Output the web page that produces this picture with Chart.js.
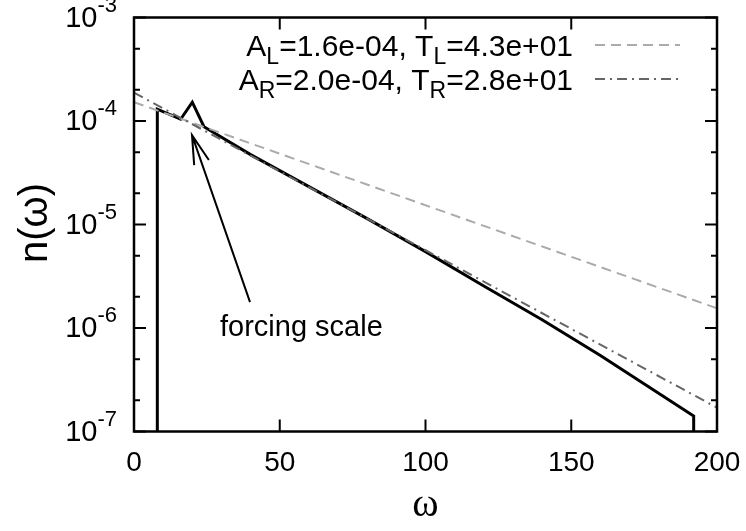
<!DOCTYPE html>
<html>
<head>
<meta charset="utf-8">
<script src="https://cdn.jsdelivr.net/npm/chart.js@4"></script>
<style>
    body { margin: 0; background: #fff; }
    #spectrum { display: block; }
</style>
</head>
<body>
<canvas id="spectrum" width="746" height="531"></canvas>
<script>
// measured spectrum n(omega)
const omega = [8, 8, 16, 20, 24, 40, 60, 80, 100, 120, 140, 160, 176, 192, 192];
const density = [1e-7, 1.30e-4, 1.04e-4, 1.52e-4, 0.88e-4, 4.73e-5, 2.32e-5, 1.14e-5, 5.47e-6, 2.55e-6, 1.20e-6, 5.42e-7, 2.77e-7, 1.41e-7, 1e-7];

// exponential fits (straight on the log axis, so two ends are enough)
const fitOmega = [0, 200];
const fitLeft = [1.52e-4, 1.55e-6];
const fitRight = [1.88e-4, 1.7e-7];

const xTicks = [0, 50, 100, 150, 200];
const yTicks = [1e-7, 2e-7, 5e-7, 1e-6, 2e-6, 5e-6, 1e-5, 2e-5, 5e-5, 1e-4, 2e-4, 5e-4, 1e-3];

// legend rows: [text, isSubscript]
const legendLeft = [['A', false], ['L', true], ['=1.6e-04, T', false], ['L', true], ['=4.3e+01', false]];
const legendRight = [['A', false], ['R', true], ['=2.0e-04, T', false], ['R', true], ['=2.8e+01', false]];

// arrow: tail / tip in data coords, label position
const arrowTail = [39.8, 1.78e-6];
const arrowTip = [19.9, 7.3e-5];
const noteText = 'forcing scale';
const notePos = [29.5, 1.0e-6];

const FONT = '"Liberation Sans", Arial, sans-serif';

function toPoints(xs, ys) {
    return xs.map((x, i) => ({ x: x, y: ys[i] }));
}

function drawSubText(ctx, parts, xRight, y, size) {
    const sub = Math.round(size * 0.75);
    let total = 0;
    parts.forEach(p => {
        ctx.font = (p[1] ? sub : size) + 'px ' + FONT;
        total += ctx.measureText(p[0]).width;
    });
    let x = xRight - total;
    ctx.textAlign = 'left';
    ctx.textBaseline = 'alphabetic';
    parts.forEach(p => {
        ctx.font = (p[1] ? sub : size) + 'px ' + FONT;
        ctx.fillText(p[0], x, p[1] ? y + 8 : y);
        x += ctx.measureText(p[0]).width;
    });
}

const framePlugin = {
    id: 'gnuplotFrame',
    afterDatasetsDraw(chart) {
        const { ctx, chartArea: a, scales } = chart;
        const xs = scales.x, ys = scales.y;
        ctx.save();
        ctx.strokeStyle = '#000';
        ctx.fillStyle = '#000';

        // border
        ctx.lineWidth = 2.5;
        ctx.strokeRect(a.left, a.top, a.right - a.left, a.bottom - a.top);

        // x ticks, inward on bottom and top
        ctx.lineWidth = 2;
        ctx.beginPath();
        xTicks.forEach(v => {
            const px = xs.getPixelForValue(v);
            ctx.moveTo(px, a.bottom); ctx.lineTo(px, a.bottom - 12);
            ctx.moveTo(px, a.top); ctx.lineTo(px, a.top + 12);
        });
        // y ticks, majors on decades
        ys.ticks.forEach(t => {
            const py = ys.getPixelForValue(t.value);
            const e = Math.log10(t.value);
            const len = Math.abs(e - Math.round(e)) < 1e-6 ? 12 : 6;
            ctx.moveTo(a.left, py); ctx.lineTo(a.left + len, py);
            ctx.moveTo(a.right, py); ctx.lineTo(a.right - len, py);
        });
        ctx.stroke();

        // x tick labels
        ctx.font = '28px ' + FONT;
        ctx.textAlign = 'center';
        ctx.textBaseline = 'middle';
        xTicks.forEach(v => ctx.fillText(String(v), xs.getPixelForValue(v), 463));

        // y tick labels 10^n
        ys.ticks.forEach(t => {
            const e = Math.log10(t.value);
            if (Math.abs(e - Math.round(e)) > 1e-6) return;
            const py = ys.getPixelForValue(t.value);
            const ex = String(Math.round(e));
            ctx.font = '22px ' + FONT;
            const ew = ctx.measureText(ex).width;
            ctx.textAlign = 'left';
            ctx.textBaseline = 'middle';
            ctx.fillText(ex, 117 - ew, py - 12);
            ctx.font = '29px ' + FONT;
            ctx.textAlign = 'right';
            ctx.fillText('10', 117 - ew, py + 1);
        });

        // axis titles
        ctx.font = '40px "Liberation Serif", "DejaVu Serif", serif';
        ctx.textAlign = 'center';
        ctx.textBaseline = 'middle';
        ctx.fillText('ω', (a.left + a.right) / 2, 505);

        ctx.save();
        ctx.translate(36, 223);
        ctx.rotate(-Math.PI / 2);
        ctx.font = '40px ' + FONT;
        ctx.fillText('n(ω)', 0, 0);
        ctx.restore();

        // legend
        drawSubText(ctx, legendLeft, 573, 56, 30);
        drawSubText(ctx, legendRight, 573, 90, 30);
        ctx.lineWidth = 2;
        ctx.strokeStyle = '#aaaaaa';
        ctx.setLineDash([10, 6]);
        ctx.beginPath(); ctx.moveTo(595, 45); ctx.lineTo(680, 45); ctx.stroke();
        ctx.strokeStyle = '#666666';
        ctx.setLineDash([10, 5, 2, 5]);
        ctx.beginPath(); ctx.moveTo(595, 79); ctx.lineTo(680, 79); ctx.stroke();
        ctx.setLineDash([]);

        // forcing scale arrow
        const tx = xs.getPixelForValue(arrowTail[0]), ty = ys.getPixelForValue(arrowTail[1]);
        const hx = xs.getPixelForValue(arrowTip[0]), hy = ys.getPixelForValue(arrowTip[1]);
        const ang = Math.atan2(ty - hy, tx - hx);
        const wing = 30, spread = 15 * Math.PI / 180;
        ctx.strokeStyle = '#000';
        ctx.lineWidth = 2;
        ctx.beginPath();
        ctx.moveTo(tx, ty); ctx.lineTo(hx, hy);
        ctx.moveTo(hx + wing * Math.cos(ang - spread), hy + wing * Math.sin(ang - spread));
        ctx.lineTo(hx, hy);
        ctx.lineTo(hx + wing * Math.cos(ang + spread), hy + wing * Math.sin(ang + spread));
        ctx.stroke();

        ctx.font = '29px ' + FONT;
        ctx.textAlign = 'left';
        ctx.textBaseline = 'middle';
        ctx.fillText(noteText, xs.getPixelForValue(notePos[0]), ys.getPixelForValue(notePos[1]));

        ctx.restore();
    }
};

function initChart() {
    const ctx = document.getElementById('spectrum').getContext('2d');
    return new Chart(ctx, {
        type: 'scatter',
        data: {
            datasets: [{
                label: 'n',
                data: toPoints(omega, density),
                showLine: true,
                borderColor: '#000',
                borderWidth: 3,
                pointRadius: 0,
                order: 3
            }, {
                label: 'left fit',
                data: toPoints(fitOmega, fitLeft),
                showLine: true,
                borderColor: '#aaaaaa',
                borderWidth: 2,
                borderDash: [10, 6],
                pointRadius: 0,
                order: 2
            }, {
                label: 'right fit',
                data: toPoints(fitOmega, fitRight),
                showLine: true,
                borderColor: '#666666',
                borderWidth: 2,
                borderDash: [10, 5, 2, 5],
                pointRadius: 0,
                order: 1
            }]
        },
        options: {
            responsive: false,
            animation: false,
            layout: { padding: { top: 17.5, right: 29, left: 0, bottom: 0 } },
            plugins: { legend: { display: false }, tooltip: { enabled: false } },
            scales: {
                x: {
                    type: 'linear', min: 0, max: 200,
                    grid: { display: false }, border: { display: false },
                    ticks: { display: false },
                    afterFit: s => { s.height = 99.5; }
                },
                y: {
                    type: 'logarithmic', min: 1e-7, max: 1e-3,
                    grid: { display: false }, border: { display: false },
                    ticks: { display: false },
                    afterBuildTicks: s => { s.ticks = yTicks.map(v => ({ value: v })); },
                    afterFit: s => { s.width = 134; }
                }
            }
        },
        plugins: [framePlugin]
    });
}

document.addEventListener('DOMContentLoaded', initChart);
</script>
</body>
</html>
